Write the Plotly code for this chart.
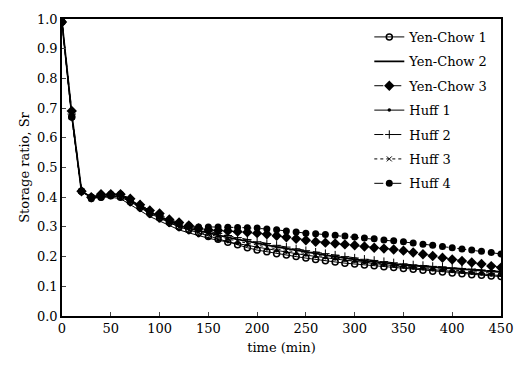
import plotly.graph_objects as go

time = list(range(0, 460, 10))

yen_chow_1 = [0.99, 0.67, 0.42, 0.40, 0.40, 0.405, 0.40, 0.385, 0.365, 0.345,
              0.33, 0.315, 0.30, 0.29, 0.28, 0.268, 0.258, 0.248, 0.24, 0.23,
              0.222, 0.216, 0.21, 0.205, 0.20, 0.195, 0.19, 0.186, 0.182, 0.178,
              0.175, 0.172, 0.169, 0.166, 0.163, 0.16, 0.157, 0.154, 0.151, 0.148,
              0.145, 0.142, 0.139, 0.137, 0.135, 0.133]
yen_chow_2 = [0.99, 0.68, 0.42, 0.40, 0.405, 0.41, 0.405, 0.39, 0.37, 0.35,
              0.335, 0.32, 0.305, 0.295, 0.287, 0.28, 0.272, 0.265, 0.258, 0.251,
              0.245, 0.239, 0.233, 0.227, 0.221, 0.215, 0.21, 0.205, 0.2, 0.195,
              0.19, 0.186, 0.183, 0.179, 0.175, 0.172, 0.17, 0.167, 0.165, 0.162,
              0.16, 0.158, 0.155, 0.153, 0.15, 0.148]
yen_chow_3 = [0.99, 0.69, 0.42, 0.40, 0.41, 0.41, 0.41, 0.395, 0.375, 0.355,
              0.345, 0.325, 0.315, 0.305, 0.295, 0.29, 0.288, 0.286, 0.284, 0.282,
              0.279, 0.275, 0.27, 0.265, 0.26, 0.255, 0.25, 0.247, 0.244, 0.241,
              0.238, 0.234, 0.23, 0.227, 0.224, 0.22, 0.214, 0.208, 0.202, 0.196,
              0.19, 0.185, 0.18, 0.175, 0.168, 0.163]
huff_1 = [0.99, 0.67, 0.42, 0.40, 0.40, 0.40, 0.395, 0.375, 0.355, 0.335,
          0.32, 0.305, 0.29, 0.28, 0.27, 0.262, 0.255, 0.25, 0.244, 0.238,
          0.232, 0.226, 0.22, 0.215, 0.21, 0.205, 0.2, 0.196, 0.192, 0.188,
          0.184, 0.18, 0.176, 0.172, 0.168, 0.165, 0.162, 0.159, 0.156, 0.153,
          0.15, 0.147, 0.144, 0.141, 0.138, 0.136]
huff_2 = [0.99, 0.68, 0.42, 0.40, 0.405, 0.41, 0.41, 0.395, 0.375, 0.355,
          0.34, 0.325, 0.31, 0.3, 0.292, 0.285, 0.278, 0.271, 0.264, 0.257,
          0.25, 0.244, 0.238, 0.232, 0.226, 0.22, 0.215, 0.21, 0.205, 0.2,
          0.195, 0.191, 0.187, 0.183, 0.179, 0.175, 0.172, 0.17, 0.167, 0.165,
          0.162, 0.16, 0.158, 0.155, 0.153, 0.15]
huff_3 = [0.99, 0.67, 0.42, 0.40, 0.40, 0.405, 0.40, 0.385, 0.365, 0.345,
          0.33, 0.315, 0.3, 0.29, 0.282, 0.275, 0.267, 0.259, 0.252, 0.245,
          0.238, 0.232, 0.226, 0.221, 0.215, 0.21, 0.205, 0.2, 0.195, 0.19,
          0.185, 0.181, 0.178, 0.174, 0.171, 0.168, 0.165, 0.163, 0.16, 0.158,
          0.155, 0.152, 0.15, 0.147, 0.145, 0.142]
huff_4 = [0.99, 0.67, 0.42, 0.395, 0.40, 0.41, 0.41, 0.39, 0.37, 0.35,
          0.335, 0.32, 0.31, 0.305, 0.30, 0.30, 0.30, 0.299, 0.298, 0.297,
          0.296, 0.293, 0.29, 0.286, 0.283, 0.279, 0.277, 0.274, 0.272, 0.269,
          0.266, 0.263, 0.26, 0.256, 0.253, 0.25, 0.246, 0.242, 0.238, 0.234,
          0.23, 0.226, 0.222, 0.218, 0.214, 0.209]

y_ticks = [0.0, 0.1, 0.2, 0.3, 0.4, 0.5, 0.6, 0.7, 0.8, 0.9, 1.0]
x_ticks = [0, 50, 100, 150, 200, 250, 300, 350, 400, 450]

FONT = "DejaVu Serif"
fig = go.Figure()

series = [
    ("Yen-Chow 1", yen_chow_1, "lines+markers", dict(symbol="circle-open", size=6, color="black", line=dict(width=1.5, color="black")), dict(width=1, dash="solid")),
    ("Yen-Chow 2", yen_chow_2, "lines", None, dict(width=1.8, dash="solid")),
    ("Yen-Chow 3", yen_chow_3, "lines+markers", dict(symbol="diamond", size=8, color="black"), dict(width=1, dash="dash")),
    ("Huff 1", huff_1, "lines+markers", dict(symbol="circle", size=3.5, color="black"), dict(width=1, dash="solid")),
    ("Huff 2", huff_2, "lines+markers", dict(symbol="cross-thin", size=6, color="black", line=dict(width=1, color="black")), dict(width=1, dash="dash")),
    ("Huff 3", huff_3, "lines+markers", dict(symbol="x-thin", size=5, color="black", line=dict(width=1, color="black")), dict(width=1, dash="dot")),
    ("Huff 4", huff_4, "lines+markers", dict(symbol="circle", size=7, color="black"), dict(width=1, dash="dash")),
]

for i, (name, vals, mode, marker, line) in enumerate(series):
    kw = dict(x=time, y=vals, name=name, mode=mode, line=dict(color="black", **line), legendgroup=str(i))
    if marker:
        kw["marker"] = marker
    fig.add_trace(go.Scatter(**kw))

fig.update_layout(
    width=525, height=365,
    margin=dict(l=62, r=19, t=15, b=49),
    plot_bgcolor="white", paper_bgcolor="white",
    font=dict(family=FONT, size=13, color="black"),
    showlegend=True,
    legend=dict(x=0.70, y=0.99, xanchor="left", yanchor="top",
                bgcolor="rgba(0,0,0,0)", font=dict(family=FONT, size=13),
                tracegroupgap=4.5, itemwidth=30),
)
fig.update_xaxes(range=[0, 450], tickvals=x_ticks, ticks="inside", ticklen=4,
                 showline=True, linecolor="black", linewidth=1.5, mirror=True,
                 showgrid=False, zeroline=False,
                 title=dict(text="time (min)", font=dict(family=FONT, size=13), standoff=8),
                 tickfont=dict(family=FONT, size=13))
fig.update_yaxes(range=[0, 1.0], tickvals=y_ticks, tickformat=".1f", ticks="inside", ticklen=4,
                 showline=True, linecolor="black", linewidth=1.5, mirror=True,
                 showgrid=False, zeroline=False,
                 title=dict(text="Storage ratio, Sr", font=dict(family=FONT, size=13), standoff=4),
                 tickfont=dict(family=FONT, size=13))

fig.write_html("out.html")
